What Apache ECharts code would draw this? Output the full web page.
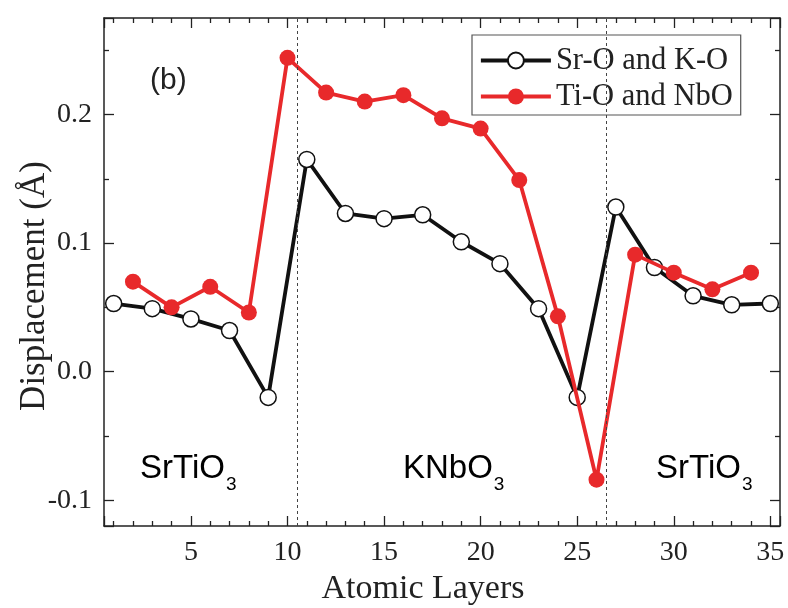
<!DOCTYPE html>
<html>
<head>
<meta charset="utf-8">
<script src="https://cdn.jsdelivr.net/npm/echarts@6/dist/echarts.min.js"></script>
<style>
  html, body { margin: 0; padding: 0; background: #fff; }
  #chart { width: 788px; height: 608px; }
</style>
</head>
<body>
<div id="chart"></div>
<script>
// Sr-O / K-O planes (odd layers)
const srKLayers = [1, 3, 5, 7, 9, 11, 13, 15, 17, 19, 21, 23, 25, 27, 29, 31, 33, 35]
const srKDisp = [0.053, 0.049, 0.041, 0.032, -0.020, 0.165, 0.123, 0.119, 0.122, 0.101, 0.084, 0.049, -0.020, 0.128, 0.081, 0.059, 0.052, 0.053]
// Ti-O / NbO planes (even layers)
const tiNbLayers = [2, 4, 6, 8, 10, 12, 14, 16, 18, 20, 22, 24, 26, 28, 30, 32, 34]
const tiNbDisp = [0.070, 0.050, 0.066, 0.046, 0.244, 0.217, 0.210, 0.215, 0.197, 0.189, 0.149, 0.043, -0.084, 0.091, 0.077, 0.064, 0.077]
// interfaces between the slabs
const interfaces = [10.5, 26.5]
const seriesNames = ['Sr-O and K-O', 'Ti-O and NbO']

const serif = 'Liberation Serif'
const sans = 'Liberation Sans'
const ink = '#222'

const chart = echarts.init(document.getElementById('chart'))

const tickStyle = { color: ink, width: 1.3 }
const xBase = {
  type: 'value',
  min: 0.5,
  max: 35.5,
  splitNumber: 7,
  splitLine: { show: false },
  axisLine: { show: true, onZero: false, lineStyle: { color: ink, width: 1.5 } },
  axisTick: { inside: true, length: 10, lineStyle: tickStyle },
  minorTick: { show: true, splitNumber: 5, length: 5, lineStyle: tickStyle }
}
const yBase = {
  type: 'value',
  min: -0.12,
  max: 0.275,
  splitNumber: 4,
  splitLine: { show: false },
  axisLine: { show: true, onZero: false, lineStyle: { color: ink, width: 1.5 } },
  axisTick: { inside: true, length: 10, lineStyle: tickStyle },
  minorTick: { show: true, splitNumber: 2, length: 5, lineStyle: tickStyle }
}

// subscript text for the slab labels
const rich = {
  m: { fontFamily: sans, fontSize: 33, color: ink },
  s: { fontFamily: sans, fontSize: 19, color: ink, padding: [32, 0, 0, 1] }
}
function slabLabel(x, y, name) {
  return { type: 'text', left: x, top: y, silent: true, style: { text: '{m|' + name + '}{s|3}', rich: rich } }
}

chart.setOption({
  animation: false,
  backgroundColor: '#fff',
  grid: { left: 104, right: 8, top: 18, bottom: 82, outerBoundsMode: 'none', containLabel: false },
  xAxis: [
    Object.assign({}, xBase, {
      position: 'bottom',
      name: 'Atomic Layers',
      nameLocation: 'middle',
      nameGap: 38,
      nameTextStyle: { fontFamily: serif, fontSize: 34, color: ink, padding: [0, 38, 0, 0] },
      axisLabel: {
        margin: 13,
        fontFamily: serif,
        fontSize: 28,
        color: ink,
        formatter: v => (Math.abs(v % 5) < 1e-9 ? String(v) : '')
      }
    }),
    Object.assign({}, xBase, { position: 'top', axisLabel: { show: false } })
  ],
  yAxis: [
    Object.assign({}, yBase, {
      position: 'left',
      name: 'Displacement (Å)',
      nameLocation: 'middle',
      nameGap: 52,
      nameMoveOverlap: false,
      nameTextStyle: { fontFamily: serif, fontSize: 35, color: ink, padding: [0, 28, 0, 0] },
      axisLabel: {
        margin: 12,
        fontFamily: serif,
        fontSize: 28,
        color: ink,
        formatter: v => {
          const r = Math.round(v * 10)
          return Math.abs(v * 10 - r) < 1e-6 ? (r / 10).toFixed(1) : ''
        }
      }
    }),
    Object.assign({}, yBase, { position: 'right', axisLabel: { show: false } })
  ],
  legend: {
    left: 472,
    top: 35,
    orient: 'vertical',
    padding: [10, 8, 3, 7],
    itemGap: 5,
    itemWidth: 70,
    itemHeight: 20,
    borderColor: '#555',
    borderWidth: 1.2,
    borderRadius: 0,
    lineStyle: { width: 3.8 },
    textStyle: { fontFamily: serif, fontSize: 30.5, color: ink, lineHeight: 30 },
    data: seriesNames
  },
  graphic: [
    { type: 'text', left: 150, top: 66, silent: true, style: { text: '(b)', fontFamily: sans, fontSize: 30, fill: ink } },
    slabLabel(140, 452, 'SrTiO'),
    slabLabel(403, 452, 'KNbO'),
    slabLabel(656, 452, 'SrTiO')
  ],
  series: [
    {
      name: seriesNames[0],
      type: 'line',
      data: srKLayers.map((x, i) => [x, srKDisp[i]]),
      symbol: 'circle',
      symbolSize: 16,
      lineStyle: { color: '#111', width: 3.8 },
      itemStyle: { color: '#fff', borderColor: '#111', borderWidth: 1.5 },
      markLine: {
        silent: true,
        symbol: 'none',
        label: { show: false },
        lineStyle: { color: '#444', width: 1, type: [3, 3] },
        data: interfaces.map(v => ({ xAxis: v }))
      },
      z: 3
    },
    {
      name: seriesNames[1],
      type: 'line',
      data: tiNbLayers.map((x, i) => [x, tiNbDisp[i]]),
      symbol: 'circle',
      symbolSize: 16,
      lineStyle: { color: '#e8292b', width: 3.8 },
      itemStyle: { color: '#e8292b' },
      z: 4
    }
  ]
})
</script>
</body>
</html>
